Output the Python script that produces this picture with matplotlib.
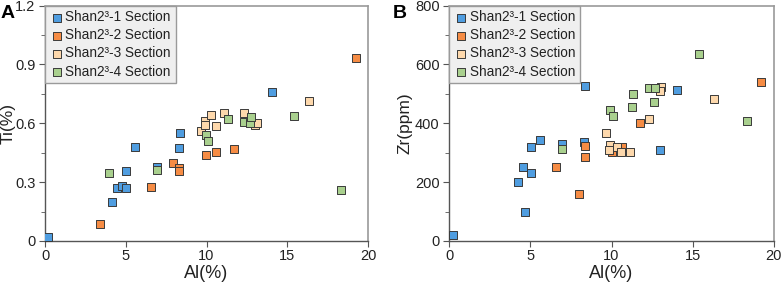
import matplotlib
matplotlib.use("Agg")
import matplotlib.pyplot as plt
from matplotlib.ticker import MultipleLocator, FuncFormatter

plt.rcParams['font.family'] = ['Liberation Sans', 'DejaVu Sans']

labels = ["Shan2³-1 Section", "Shan2³-2 Section", "Shan2³-3 Section", "Shan2³-4 Section"]
colors = ["#4f9de0", "#f68c44", "#fdd8ac", "#a9d08e"]

# Panel A: Al(%) vs Ti(%)
a_al_1 = [0.16, 4.16, 4.47, 4.74, 5.01, 4.99, 5.57, 6.93, 8.35, 8.29, 14.04]
a_ti_1 = [0.02, 0.20, 0.27, 0.28, 0.27, 0.357, 0.48, 0.376, 0.55, 0.476, 0.758]
a_al_2 = [3.40, 6.56, 7.92, 8.31, 8.27, 9.96, 10.6, 11.7, 19.24]
a_ti_2 = [0.087, 0.275, 0.396, 0.37, 0.357, 0.437, 0.455, 0.469, 0.93]
a_al_3 = [9.65, 9.92, 9.88, 10.25, 10.56, 11.09, 12.35, 13.0, 13.1, 16.33]
a_ti_3 = [0.563, 0.612, 0.59, 0.642, 0.588, 0.654, 0.651, 0.593, 0.60, 0.714]
a_al_4 = [3.96, 6.93, 9.94, 10.1, 11.32, 12.33, 12.68, 12.77, 15.4, 18.35]
a_ti_4 = [0.348, 0.364, 0.539, 0.512, 0.62, 0.605, 0.60, 0.632, 0.639, 0.262]

# Panel B: Al(%) vs Zr(ppm)
b_al_1 = [0.23, 4.21, 4.52, 5.02, 5.06, 4.69, 5.61, 6.93, 8.32, 8.37, 13.01, 14.06]
b_zr_1 = [20, 199, 251, 321, 232, 98, 343, 330, 338, 527, 310, 513]
b_al_2 = [6.58, 7.98, 8.35, 8.35, 10.03, 10.65, 11.73, 19.24]
b_zr_2 = [250, 160, 323, 285, 304, 321, 401, 540]
b_al_3 = [9.68, 9.93, 9.87, 10.34, 10.6, 11.12, 12.33, 13.07, 12.97, 16.3]
b_zr_3 = [367, 327, 308, 321, 301, 304, 414, 522, 508, 483]
b_al_4 = [4.03, 6.93, 9.93, 10.11, 11.26, 11.3, 12.31, 12.68, 12.6, 15.38, 18.36]
b_zr_4 = [560, 312, 444, 426, 455, 498, 520, 520, 472, 636, 409]


def style_axes(ax, ymax, ymajor, yminor, ylabel, ylab_x):
    ax.set_xlim(0, 20)
    ax.set_ylim(0, ymax)
    ax.xaxis.set_major_locator(MultipleLocator(5))
    ax.yaxis.set_major_locator(MultipleLocator(ymajor))
    ax.yaxis.set_minor_locator(MultipleLocator(yminor))
    for side in ['top', 'right']:
        ax.spines[side].set_color('#9a9a9a')
        ax.spines[side].set_linewidth(1.2)
    for side in ['left', 'bottom']:
        ax.spines[side].set_color('#555555')
        ax.spines[side].set_linewidth(1.0)
    ax.tick_params(axis='both', which='major', direction='out', length=4,
                   color='#555555', labelsize=10.5, labelcolor='#222222', pad=3)
    ax.tick_params(axis='x', which='major', pad=2)
    ax.tick_params(axis='y', which='minor', direction='out', length=3, color='#555555')
    ax.set_xlabel("Al(%)", fontsize=13, color='#222222')
    ax.set_ylabel(ylabel, fontsize=12.5, color='#222222')
    ax.xaxis.set_label_coords(0.5, -0.1)
    ax.yaxis.set_label_coords(ylab_x, 0.5)


def draw(ax, series):
    for (x, y), c, lab in zip(series, colors, labels):
        ax.scatter(x, y, marker='s', s=30, c=c, edgecolors='#3a3a3a',
                   linewidths=0.7, label=lab, zorder=3)
    leg = ax.legend(loc='upper left', bbox_to_anchor=(0, 1), fontsize=9.8,
                    frameon=True, fancybox=False, borderaxespad=0,
                    handletextpad=0.15, borderpad=0.35, labelspacing=0.3,
                    handlelength=1.0, markerscale=1.0)
    leg.get_frame().set_facecolor('#efefef')
    leg.get_frame().set_edgecolor('#9a9a9a')
    leg.get_frame().set_alpha(1)
    for t in leg.get_texts():
        t.set_color('#222222')


fig = plt.figure(figsize=(7.82, 2.82), dpi=100)
axA = fig.add_axes([45 / 782, 41 / 282, 323 / 782, 235.5 / 282])
axB = fig.add_axes([449.3 / 782, 41 / 282, 324.4 / 782, 235.5 / 282])

draw(axA, [(a_al_1, a_ti_1), (a_al_2, a_ti_2), (a_al_3, a_ti_3), (a_al_4, a_ti_4)])
style_axes(axA, 1.2, 0.3, 0.15, "Ti(%)", -0.092)
axA.yaxis.set_major_formatter(FuncFormatter(lambda v, p: "0" if v == 0 else f"{v:.1f}"))

draw(axB, [(b_al_1, b_zr_1), (b_al_2, b_zr_2), (b_al_3, b_zr_3), (b_al_4, b_zr_4)])
style_axes(axB, 800, 200, 100, "Zr(ppm)", -0.112)

fig.text(1 / 782, 1 - 13 / 282, "A", fontsize=14, fontweight='bold', va='center')
fig.text(393 / 782, 1 - 13 / 282, "B", fontsize=14, fontweight='bold', va='center')

fig.savefig("out.png", dpi=100)
